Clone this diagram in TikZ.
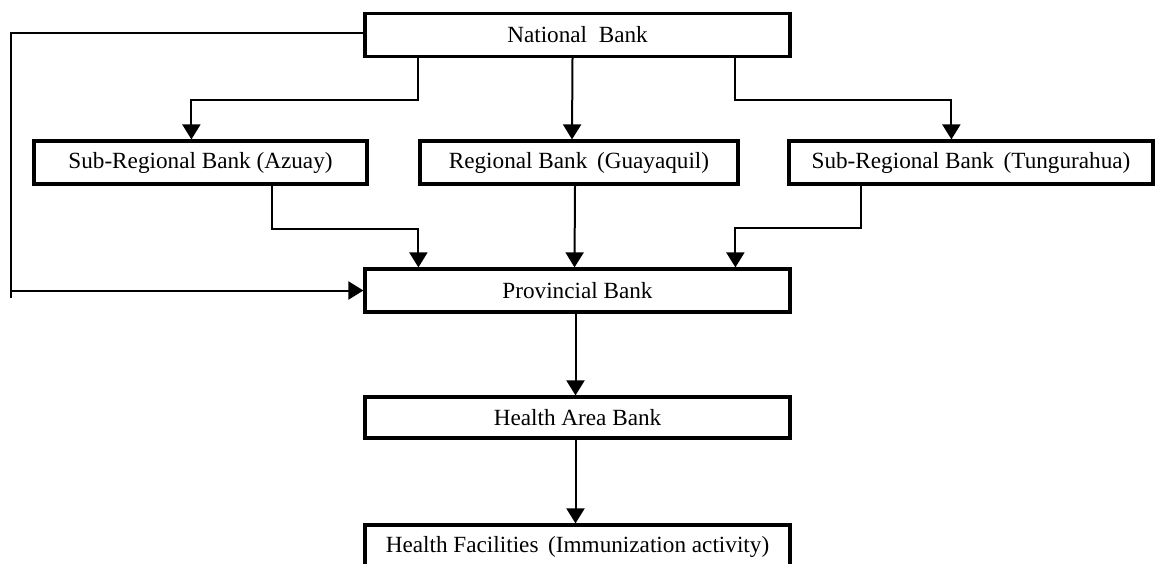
\documentclass[tikz,border=0pt]{standalone}
\usepackage{fontspec}
\setmainfont{Liberation Serif}
\usepackage{tikz}
\usetikzlibrary{arrows.meta,calc,positioning}

\tikzset{
    bankbox/.style={draw, line width=1.6pt, inner sep=0pt, minimum height=21.5pt,
        font=\fontsize{11.6}{13}\selectfont},
    link/.style={line width=1pt},
    arr/.style={line width=1pt, -{Triangle[width=9pt,length=7.5pt]}},
}

\begin{document}
\begin{tikzpicture}[x=0.5pt,y=-0.5pt]
    \useasboundingbox (0,0) rectangle (1156,563);
    % boxes
    \node[bankbox, minimum width=212.5pt] (nb) at (577.5,35) {National\ \ Bank};
    \node[bankbox, minimum width=166.5pt] (azu) at (200.5,162.5) {Sub-Regional Bank (Azuay)};
    \node[bankbox, minimum width=159pt] (reg) at (579,162.5) {Regional Bank \,(Guayaquil)};
    \node[bankbox, minimum width=182pt] (tun) at (971,162.5) {Sub-Regional Bank \,(Tungurahua)};
    \node[bankbox, minimum width=212.5pt] (prov) at (577.5,290.5) {Provincial Bank};
    \node[bankbox, minimum width=212.5pt, minimum height=20.5pt] (hab) at (577.5,417.5) {Health Area Bank};
    \node[bankbox, minimum width=212.5pt] (hf) at (577.5,546.5) {Health Facilities \,(Immunization activity)};
    % bends
    \coordinate (corner) at (11,33);
    \coordinate (nbL) at ($(nb.south west)+(55,0)$);
    \coordinate (nbR) at ($(nb.south west)+(372,0)$);
    \coordinate (azuB) at ($(azu.south west)+(240,0)$);
    \coordinate (tunB) at ($(tun.south west)+(74,0)$);
    % national bank to the banks below
    \draw[link] (nb.west |- corner) -- (corner) -- ++(0,265);
    \draw[arr] (corner |- prov.west) -- (prov.west);
    \draw[arr] (nbL) -- ++(0,42) -| ($(azu.north west)+(159,0)$);
    \draw[arr] ($(nb.south)+(-5,0)$) -- ($(reg.north)+(-7,0)$);
    \draw[arr] (nbR) -- ++(0,42) -| ($(tun.north west)+(164,0)$);
    % banks to provincial bank
    \draw[arr] (azuB) -- ++(0,43) -| ($(prov.north west)+(55,0)$);
    \draw[arr] ($(reg.south)+(-4,0)$) -- ($(prov.north)+(-3,0)$);
    \draw[arr] (tunB) -- ++(0,42) -| ($(prov.north west)+(372,0)$);
    % down the line
    \draw[arr] ($(prov.south)+(-2,0)$) -- ($(hab.north)+(-2,0)$);
    \draw[arr] ($(hab.south)+(-2,0)$) -- ($(hf.north)+(-2,0)$);
\end{tikzpicture}
\end{document}
